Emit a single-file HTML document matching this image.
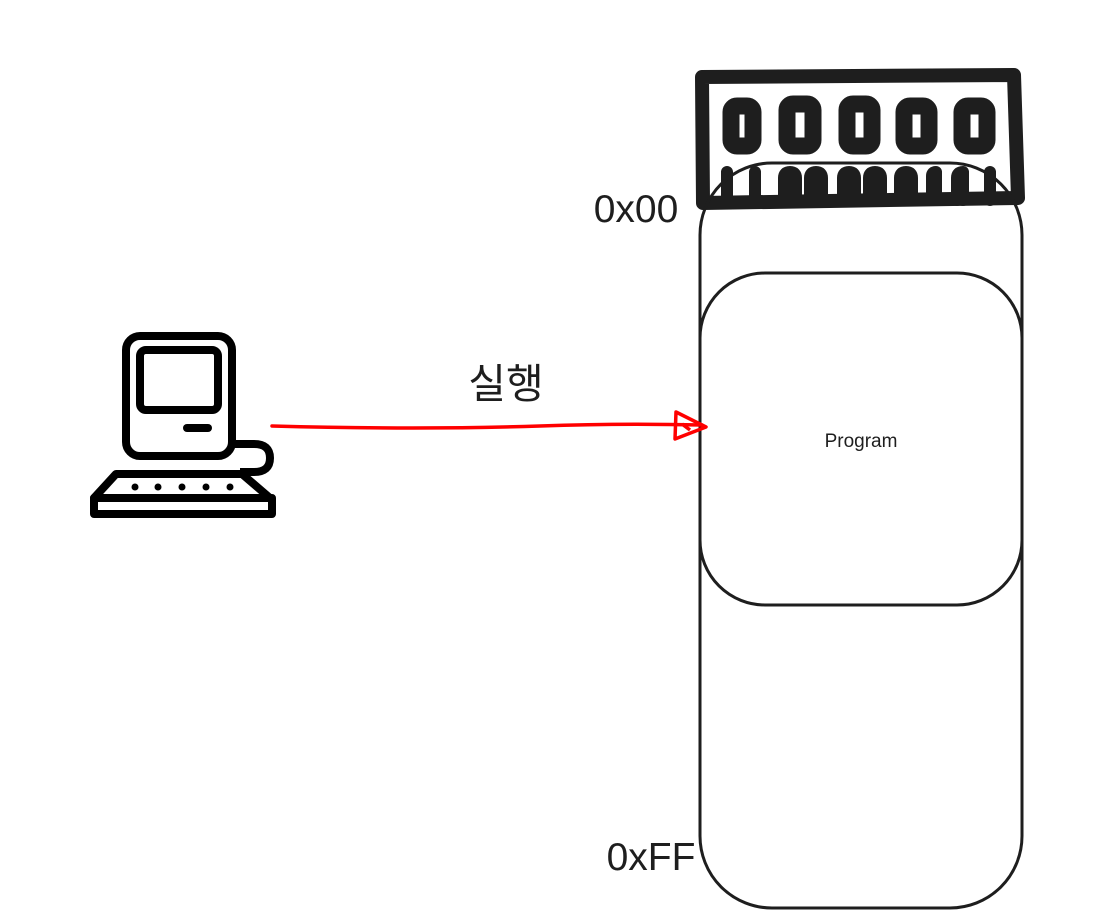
<!DOCTYPE html>
<html><head><meta charset="utf-8"><style>
html,body{margin:0;padding:0;background:#fff;}
svg{display:block}
</style></head><body>
<svg width="1097" height="911" viewBox="0 0 1097 911" xmlns="http://www.w3.org/2000/svg">
<!-- RAM -->
<g stroke="#1e1e1e" fill="none" stroke-linecap="round" stroke-linejoin="round">
<path d="M702 77 L1014 75 L1018 198 L703 203 Z" stroke-width="14" fill="#fff"/>
<g stroke-width="17">
<rect x="731" y="106" width="22" height="40" rx="6"/>
<rect x="787" y="104" width="26" height="42" rx="6"/>
<rect x="847" y="104" width="25" height="42" rx="6"/>
<rect x="904" y="106" width="25" height="40" rx="6"/>
<rect x="962" y="106" width="25" height="40" rx="6"/>
</g>
<g stroke-width="12">
<path d="M727 172 V200 M755 172 V200"/>
<path d="M784 200 V178 Q784 172 790 172 Q796 172 796 178 V200"/>
<path d="M810 200 V178 Q810 172 816 172 Q822 172 822 178 V200"/>
<path d="M843 200 V178 Q843 172 849 172 Q855 172 855 178 V200"/>
<path d="M869 200 V178 Q869 172 875 172 Q881 172 881 178 V200"/>
<path d="M900 200 V178 Q900 172 906 172 Q912 172 912 178 V200"/>
<path d="M932 200 V176 Q932 172 936 172 V200"/>
<path d="M957 200 V178 Q957 172 963 172 V200"/>
<path d="M990 172 V200"/>
</g>
</g>
<rect x="700" y="163" width="322" height="745" rx="72" fill="none" stroke="#1e1e1e" stroke-width="3"/>
<rect x="700" y="273" width="322" height="332" rx="65" fill="none" stroke="#1e1e1e" stroke-width="3"/>
<text x="861" y="447" font-family="Liberation Sans, sans-serif" font-size="19" fill="#1e1e1e" text-anchor="middle">Program</text>
<text x="636" y="222" font-family="Liberation Sans, sans-serif" font-size="39" fill="#1e1e1e" text-anchor="middle">0x00</text>
<text x="651" y="870" font-family="Liberation Sans, sans-serif" font-size="39" fill="#1e1e1e" text-anchor="middle">0xFF</text>
<!-- Computer -->
<g stroke="#000" fill="none" stroke-width="8" stroke-linejoin="round">
<rect x="126" y="336" width="106" height="120" rx="14"/>
<rect x="140" y="350" width="78" height="60" rx="6"/>
<path d="M232 444 H254 Q270 444 270 458 Q270 472 254 472 H240"/>
<path d="M116 474 H242 L270 498 H94 Z"/>
<rect x="94" y="498" width="178" height="16"/>
</g>
<line x1="187" y1="428" x2="208" y2="428" stroke="#000" stroke-width="8" stroke-linecap="round"/>
<g fill="#000"><circle cx="135" cy="487" r="3.5"/><circle cx="158" cy="487" r="3.5"/><circle cx="182" cy="487" r="3.5"/><circle cx="206" cy="487" r="3.5"/><circle cx="230" cy="487" r="3.5"/></g>
<!-- arrow -->
<path d="M272 426 Q420 430 540 426 Q620 423 702 425" stroke="#f00" stroke-width="3.5" fill="none" stroke-linecap="round"/>
<path d="M676 412 L706 427 L675 439 Z M682 424 L690 430" stroke="#f00" stroke-width="3.5" fill="none" stroke-linejoin="round"/>
<text x="506" y="398" font-family="Liberation Sans, 'Noto Sans CJK KR', sans-serif" font-size="41" fill="#1e1e1e" text-anchor="middle">실행</text>
</svg>
</body></html>
